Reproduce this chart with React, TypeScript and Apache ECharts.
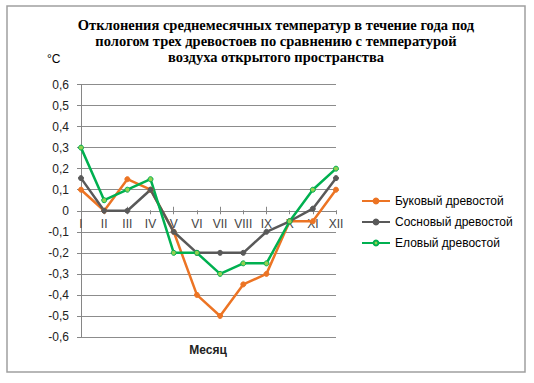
import React, { useEffect, useRef } from "react";
import * as echarts from "echarts";

const months = ["I", "II", "III", "IV", "V", "VI", "VII", "VIII", "IX", "X", "XI", "XII"];
const beech = [0.1, 0.0, 0.15, 0.1, -0.1, -0.4, -0.5, -0.35, -0.3, -0.05, -0.05, 0.1];
const pine = [0.155, 0.0, 0.0, 0.1, -0.1, -0.2, -0.2, -0.2, -0.1, -0.05, 0.01, 0.155];
const spruce = [0.3, 0.05, 0.1, 0.15, -0.2, -0.2, -0.3, -0.25, -0.25, -0.05, 0.1, 0.2];
const seriesNames = ["Буковый древостой", "Сосновый древостой", "Еловый древостой"];
const titleText =
  "Отклонения среднемесячных температур в течение года под\nпологом трех древостоев по сравнению с температурой\nвоздуха открытого пространства";

const FONT = "'Liberation Sans', Arial, sans-serif";
const AXIS = "#868686";

export default function App() {
  const ref = useRef<HTMLDivElement>(null);
  useEffect(() => {
    if (!ref.current) return;
    const chart = echarts.init(ref.current, undefined, { renderer: "svg" });
    const mk = (name: string, data: number[], color: string, marker: string) => ({
      name,
      type: "line",
      data,
      xAxisIndex: 0,
      yAxisIndex: 0,
      symbol: "circle",
      symbolSize: 5,
      showSymbol: true,
      lineStyle: { color, width: 2.5 },
      itemStyle: { color: marker, borderColor: color, borderWidth: 1 },
      emphasis: { disabled: true },
    });
    chart.setOption({
      animation: false,
      textStyle: { fontFamily: FONT },
      title: {
        text: titleText,
        left: 271,
        top: 12,
        textAlign: "center",
        textStyle: {
          fontFamily: "'Liberation Serif', 'Times New Roman', serif",
          fontWeight: "bold",
          fontSize: 14.5,
          lineHeight: 16,
          color: "#000",
        },
      },
      legend: {
        orient: "vertical",
        left: 356,
        top: 190,
        itemWidth: 28,
        itemHeight: 6,
        itemGap: 9,
        textStyle: { fontFamily: FONT, fontSize: 12, color: "#000" },
        data: seriesNames,
      },
      grid: [
        { left: 81, right: 198, top: 84.5, bottom: 46 },
        { left: 81, right: 198, top: 84.5, height: 125.75 },
      ],
      xAxis: [
        {
          gridIndex: 0,
          type: "category",
          data: months,
          boundaryGap: false,
          axisLine: { onZero: true, lineStyle: { color: AXIS, width: 1 } },
          axisTick: { show: true, inside: true, length: 4, lineStyle: { color: AXIS } },
          axisLabel: { show: false },
          splitLine: { show: false },
        },
        {
          gridIndex: 1,
          type: "category",
          data: months,
          boundaryGap: false,
          position: "bottom",
          axisLine: { show: false },
          axisTick: { show: true, length: 4, interval: 0, lineStyle: { color: AXIS } },
          axisLabel: { show: true, interval: 0, fontFamily: FONT, fontSize: 12, color: "#444", margin: 8 },
          splitLine: { show: false },
        },
      ],
      yAxis: [
        {
          gridIndex: 0,
          type: "value",
          min: -0.6,
          max: 0.6,
          interval: 0.1,
          axisLine: { show: true, lineStyle: { color: AXIS } },
          axisTick: { show: true, length: 4, lineStyle: { color: AXIS } },
          axisLabel: {
            fontFamily: FONT,
            fontSize: 12,
            color: "#222",
            margin: 12,
            formatter: (v: number) => {
              const r = Math.round(v * 10) / 10;
              return r === 0 ? "0" : r.toFixed(1).replace(".", ",");
            },
          },
          splitLine: { show: true, lineStyle: { color: "#8c8c8c", width: 1 } },
        },
        {
          gridIndex: 1,
          type: "value",
          min: 0,
          max: 0.6,
          show: false,
        },
      ],
      graphic: [
        {
          type: "rect",
          shape: { x: 7, y: 6, width: 518, height: 366 },
          style: { fill: "none", stroke: "#a0a0a0", lineWidth: 1.5 },
          silent: true,
        },
        {
          type: "text",
          x: 47,
          y: 53,
          style: { text: "°C", fontFamily: FONT, fontSize: 12, fill: "#000" },
        },
        {
          type: "text",
          x: 208,
          y: 350,
          style: {
            text: "Месяц",
            fontFamily: FONT,
            fontSize: 12,
            fontWeight: "bold",
            fill: "#222",
            textAlign: "center",
            textVerticalAlign: "middle",
          },
        },
      ],
      series: [
        mk(seriesNames[0], beech, "#EC7424", "#EC7424"),
        mk(seriesNames[1], pine, "#595959", "#595959"),
        mk(seriesNames[2], spruce, "#00B050", "#92D050"),
      ],
    });
    return () => chart.dispose();
  }, []);
  return (
    <div
      ref={ref}
      style={{ position: "absolute", left: 0, top: 0, width: 534, height: 383, background: "#fff" }}
    />
  );
}
